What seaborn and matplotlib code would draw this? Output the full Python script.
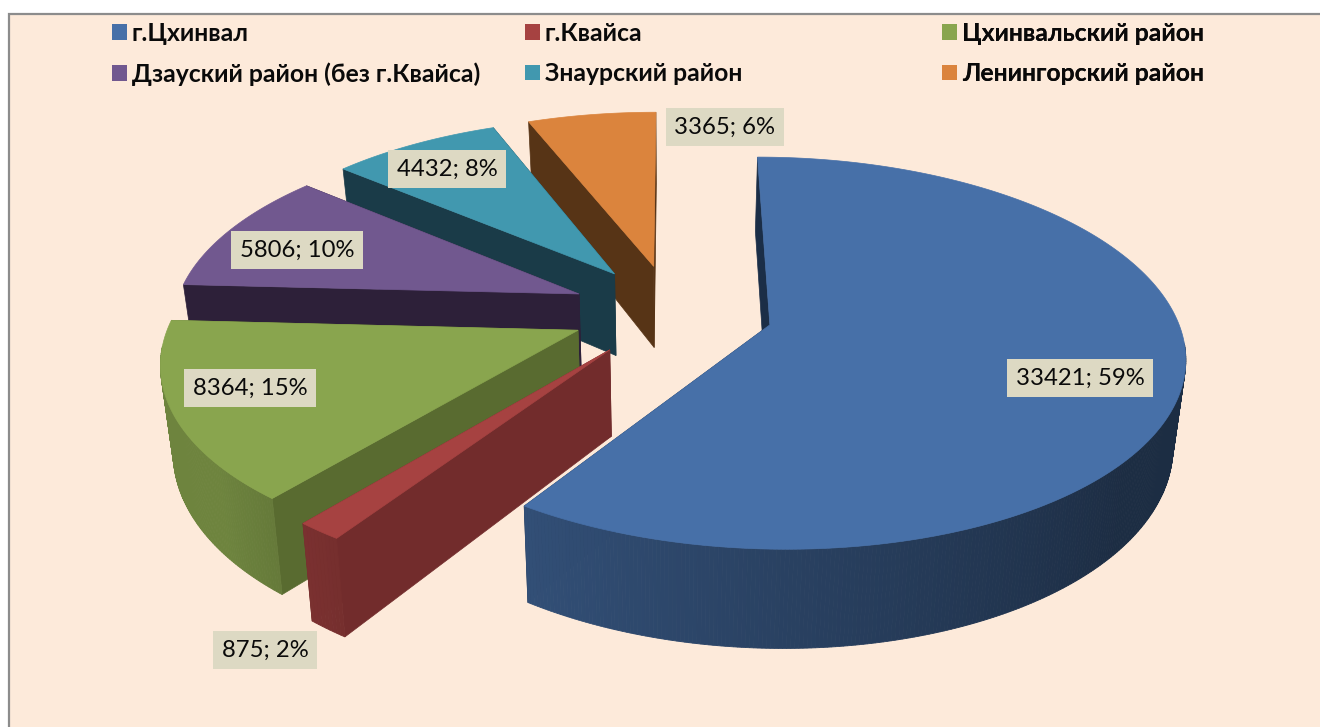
"""3D-круговая диаграмма населения по районам (разрезанная)."""
import matplotlib.pyplot as plt
import numpy as np
import seaborn as sns
from matplotlib import colors as mc
from matplotlib.patches import Patch, Rectangle

names = ["г.Цхинвал", "г.Квайса", "Цхинвальский район",
         "Дзауский район (без г.Квайса)", "Знаурский район", "Ленингорский район"]
values = [33421, 875, 8364, 5806, 4432, 3365]
percents = [59, 2, 15, 10, 8, 6]
top_colors = ["#4770A8", "#A64241", "#89A54E", "#71588F", "#4198AF", "#DB843D"]
wall_colors = ["#1B2E47", "#722C2C", "#596B30", "#2D2039", "#1A3B48", "#573416"]

# геометрия проекции (пиксели)
CX, CY = 672, 311
RX, RY = 405, 188
PERSP = 0.143
DEPTH = 84
BOTTOM_X = 0.975
EXPLODE = 0.25
label_xy = [(1080, 378), (265, 650), (250, 388), (297, 250), (447, 169), (725, 127)]
BG = "#FDEADA"


def project(x, y, bottom=False):
    w = 1 / (1 - PERSP * y)
    sx = RX * x * w
    sy = CY + RY * y * w
    if bottom:
        return CX + sx * BOTTOM_X, sy + DEPTH * w
    return CX + sx, sy


def arc_light(deg):
    return np.interp(deg, [130, 212, 230, 360], [0.40, 0.70, 0.80, 0.80])


def draw_slice(ax, a0, a1, top, wall):
    mid = np.radians((a0 + a1) / 2)
    ox, oy = EXPLODE * np.sin(mid), -EXPLODE * np.cos(mid)
    th = np.linspace(a0, a1, max(int(a1 - a0) * 2, 6))
    px = ox + np.sin(np.radians(th))
    py = oy - np.cos(np.radians(th))

    # радиальные стенки
    for i in (0, -1):
        a = [project(ox, oy), project(px[i], py[i]),
             project(px[i], py[i], True), project(ox, oy, True)]
        ax.fill(*zip(*a), color=wall, lw=0.5, zorder=1)

    # внешняя стенка: только то, что обращено к зрителю
    base = np.array(mc.to_rgb(top))
    for i in np.argsort(py[:-1]):
        if np.cos(np.radians(th[i])) > -0.09:
            continue
        q = [project(px[i], py[i]), project(px[i + 1], py[i + 1]),
             project(px[i + 1], py[i + 1], True), project(px[i], py[i], True)]
        ax.fill(*zip(*q), color=base * arc_light(th[i]), lw=0.6, zorder=1)

    # верхняя грань
    xs, ys = project(np.r_[ox, px], np.r_[oy, py])
    ax.fill(xs, ys, color=top, lw=0.5, zorder=1)


def main():
    sns.set_theme(style="white")
    plt.rcParams["font.family"] = ["Lato", "Noto Sans", "DejaVu Sans"]

    fig, ax = plt.subplots(figsize=(13.2, 7.27), dpi=100)
    ax.set_position([0, 0, 1, 1])
    ax.set_xlim(0, 1320)
    ax.set_ylim(727, 0)
    ax.axis("off")
    ax.add_patch(Rectangle((8.5, 13.5), 1330, 730, fc=BG, ec="#8C8C8C", lw=1.6, zorder=0))

    shares = np.array(values) / sum(values) * 360
    edges = np.r_[0, np.cumsum(shares)]
    for i in range(len(values) - 1, -1, -1):
        draw_slice(ax, edges[i], edges[i + 1], top_colors[i], wall_colors[i])

    for (x, y), v, p in zip(label_xy, values, percents):
        ax.text(x, y, f"{v}; {p}%", ha="center", va="center", fontsize=17.2, color="#0A0A0A",
                zorder=3, bbox=dict(fc="#DDD9C3", ec="none", pad=6.2))

    # легенда: три колонки разной ширины
    for col, x0 in zip(range(3), [102, 515, 932]):
        idx = [col, col + 3]
        handles = [Patch(fc=top_colors[j], ec="none") for j in idx]
        leg = ax.legend(handles, [names[j] for j in idx], loc="upper left",
                        bbox_to_anchor=(x0, 12), bbox_transform=ax.transData,
                        frameon=False, handlelength=0.6, handleheight=0.6, handletextpad=0.2,
                        labelspacing=0.7, borderpad=0.4, borderaxespad=0,
                        prop=dict(size=17.85, weight="bold"), labelcolor="#0A0A0A")
        ax.add_artist(leg)

    fig.savefig("out.png", dpi=100, facecolor="white")
    plt.close(fig)


if __name__ == "__main__":
    main()
